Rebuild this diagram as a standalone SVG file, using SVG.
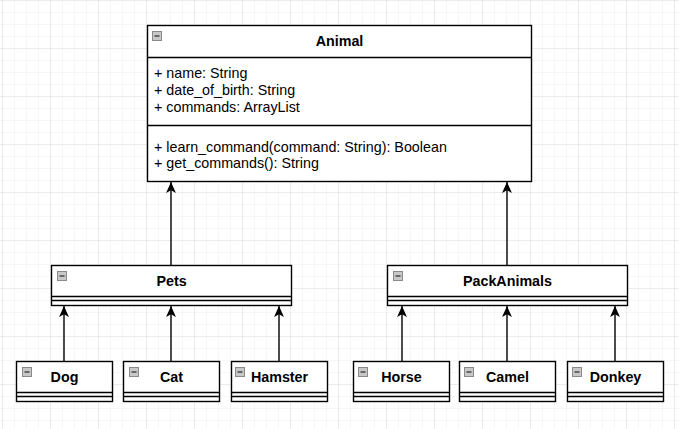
<svg xmlns="http://www.w3.org/2000/svg" width="679" height="429" viewBox="0 0 679 429">
<defs>
<pattern id="minor" x="2" y="0" width="12" height="12" patternUnits="userSpaceOnUse">
<path d="M0,0 L12,0 M0,0 L0,12" fill="none" stroke="#f0f0f0" stroke-width="1"/>
</pattern>
<pattern id="major" x="2" y="0" width="48" height="48" patternUnits="userSpaceOnUse">
<path d="M0,0 L48,0 M0,0 L0,48" fill="none" stroke="#e0e0e0" stroke-width="1"/>
</pattern>
<marker id="arr" viewBox="0 0 10 10" refX="10" refY="5" markerWidth="11" markerHeight="11" markerUnits="userSpaceOnUse" orient="auto">
<path d="M0,0.5 L10,5 L0,9.5 L2.5,5 Z" fill="#000"/>
</marker>
<g id="minus">
<rect x="0.5" y="0.5" width="9" height="9" fill="#c8c8c8" stroke="#8a8a8a" stroke-width="1"/>
<line x1="2.5" y1="5" x2="7.5" y2="5" stroke="#333" stroke-width="1.3"/>
</g>
</defs>
<style>
.box{fill:#fff;stroke:#000;stroke-width:1.4}
.sep{stroke:#000;stroke-width:1.4;fill:none}
.title{font-family:"Liberation Sans",Arial,sans-serif;font-size:14.3px;font-weight:bold;text-anchor:middle;fill:#000}
.mem{font-family:"Liberation Sans",Arial,sans-serif;font-size:14.3px;fill:#000}
.conn{stroke:#000;stroke-width:1.4;fill:none}
</style>
<rect width="679" height="429" fill="#fff"/>
<rect width="679" height="429" fill="url(#minor)"/>
<rect width="679" height="429" fill="url(#major)"/>

<g id="connectors">
<line class="conn" x1="171" y1="265" x2="171" y2="182" marker-end="url(#arr)"/>
<line class="conn" x1="507" y1="265" x2="507" y2="182" marker-end="url(#arr)"/>
<line class="conn" x1="64" y1="361" x2="64" y2="306" marker-end="url(#arr)"/>
<line class="conn" x1="171" y1="361" x2="171" y2="306" marker-end="url(#arr)"/>
<line class="conn" x1="279" y1="361" x2="279" y2="306" marker-end="url(#arr)"/>
<line class="conn" x1="402" y1="361" x2="402" y2="306" marker-end="url(#arr)"/>
<line class="conn" x1="507" y1="361" x2="507" y2="306" marker-end="url(#arr)"/>
<line class="conn" x1="615" y1="361" x2="615" y2="306" marker-end="url(#arr)"/>
</g>

<g id="animal">
<rect class="box" x="147.5" y="25.5" width="384" height="156"/>
<line class="sep" x1="147.5" y1="57.5" x2="531.5" y2="57.5"/>
<line class="sep" x1="147.5" y1="125.5" x2="531.5" y2="125.5"/>
<use href="#minus" x="152" y="31"/>
<text class="title" x="339.5" y="46">Animal</text>
<text class="mem" x="154" y="78">+ name: String</text>
<text class="mem" x="154" y="95">+ date_of_birth: String</text>
<text class="mem" x="154" y="112">+ commands: ArrayList</text>
<text class="mem" x="154" y="152">+ learn_command(command: String): Boolean</text>
<text class="mem" x="154" y="168">+ get_commands(): String</text>
</g>

<g id="pets">
<rect class="box" x="51.5" y="265.5" width="240" height="40"/>
<line class="sep" x1="51.5" y1="296.5" x2="291.5" y2="296.5"/>
<line class="sep" x1="51.5" y1="300.5" x2="291.5" y2="300.5"/>
<use href="#minus" x="57" y="271"/>
<text class="title" x="171.5" y="286">Pets</text>
</g>

<g id="packanimals">
<rect class="box" x="387.5" y="265.5" width="240" height="40"/>
<line class="sep" x1="387.5" y1="296.5" x2="627.5" y2="296.5"/>
<line class="sep" x1="387.5" y1="300.5" x2="627.5" y2="300.5"/>
<use href="#minus" x="393" y="271"/>
<text class="title" x="507.5" y="286">PackAnimals</text>
</g>

<g id="dog">
<rect class="box" x="16.5" y="361.5" width="96" height="40"/>
<line class="sep" x1="16.5" y1="392.5" x2="112.5" y2="392.5"/>
<line class="sep" x1="16.5" y1="396.5" x2="112.5" y2="396.5"/>
<use href="#minus" x="22" y="367"/>
<text class="title" x="64.5" y="382">Dog</text>
</g>

<g id="cat">
<rect class="box" x="123.5" y="361.5" width="96" height="40"/>
<line class="sep" x1="123.5" y1="392.5" x2="219.5" y2="392.5"/>
<line class="sep" x1="123.5" y1="396.5" x2="219.5" y2="396.5"/>
<use href="#minus" x="129" y="367"/>
<text class="title" x="171.5" y="382">Cat</text>
</g>

<g id="hamster">
<rect class="box" x="231.5" y="361.5" width="96" height="40"/>
<line class="sep" x1="231.5" y1="392.5" x2="327.5" y2="392.5"/>
<line class="sep" x1="231.5" y1="396.5" x2="327.5" y2="396.5"/>
<use href="#minus" x="235" y="367"/>
<text class="title" x="279.5" y="382">Hamster</text>
</g>

<g id="horse">
<rect class="box" x="353.5" y="361.5" width="96" height="40"/>
<line class="sep" x1="353.5" y1="392.5" x2="449.5" y2="392.5"/>
<line class="sep" x1="353.5" y1="396.5" x2="449.5" y2="396.5"/>
<use href="#minus" x="358" y="367"/>
<text class="title" x="401.5" y="382">Horse</text>
</g>

<g id="camel">
<rect class="box" x="459.5" y="361.5" width="96" height="40"/>
<line class="sep" x1="459.5" y1="392.5" x2="555.5" y2="392.5"/>
<line class="sep" x1="459.5" y1="396.5" x2="555.5" y2="396.5"/>
<use href="#minus" x="464" y="367"/>
<text class="title" x="507.5" y="382">Camel</text>
</g>

<g id="donkey">
<rect class="box" x="567.5" y="361.5" width="96" height="40"/>
<line class="sep" x1="567.5" y1="392.5" x2="663.5" y2="392.5"/>
<line class="sep" x1="567.5" y1="396.5" x2="663.5" y2="396.5"/>
<use href="#minus" x="572" y="367"/>
<text class="title" x="615.5" y="382">Donkey</text>
</g>
</svg>
